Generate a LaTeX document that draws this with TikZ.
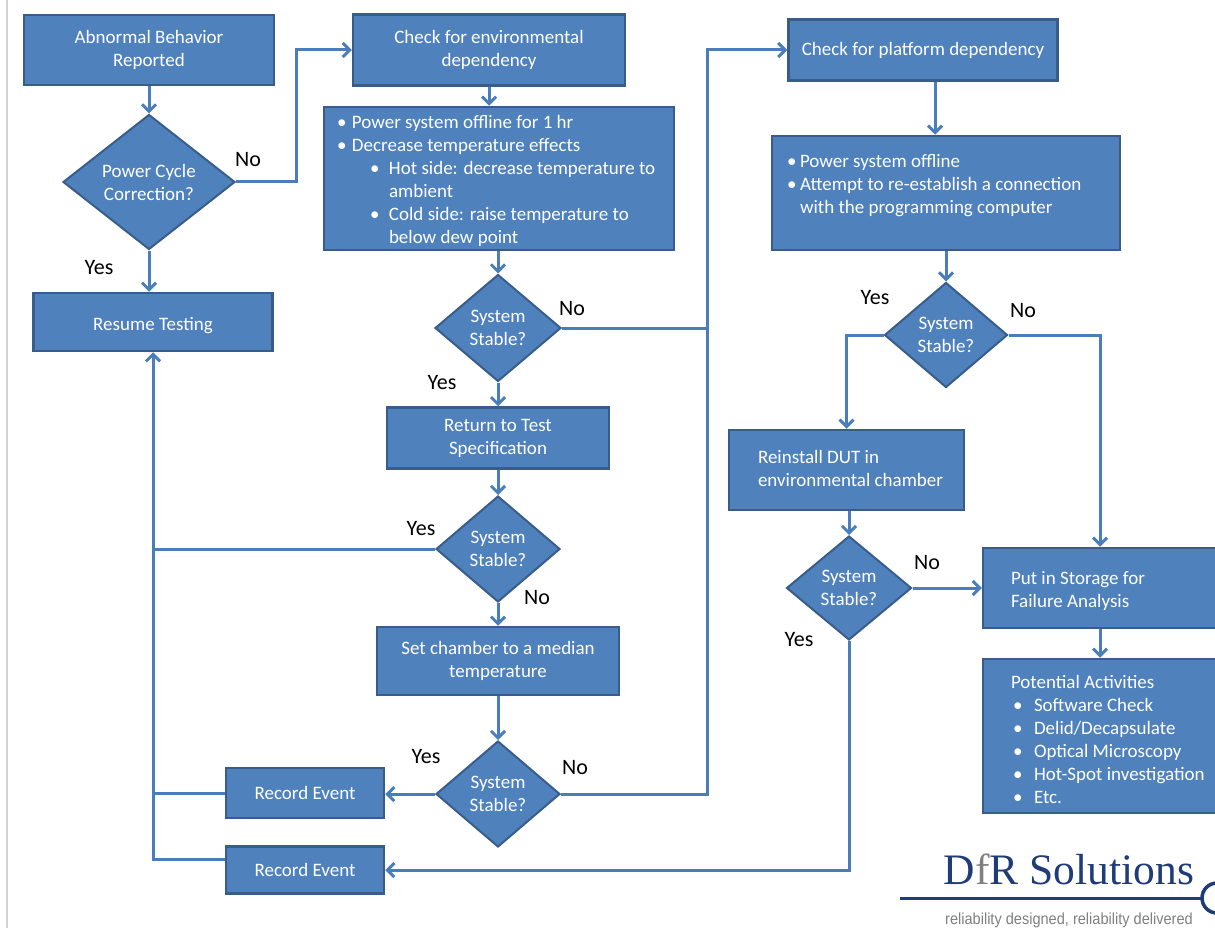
\documentclass[tikz,border=0pt]{standalone}
\usepackage{fontspec}
\setmainfont{Carlito}
\newfontfamily\logofont{Liberation Serif}
\newfontfamily\mottofont{Liberation Sans}
\usetikzlibrary{shapes.geometric,arrows.meta}

\definecolor{kastenblau}{HTML}{4F81BD}
\definecolor{randblau}{HTML}{385D8A}
\definecolor{pfeilblau}{HTML}{4A7EBB}
\definecolor{logoblau}{HTML}{1F3C78}

% Aufzaehlungspunkt und linksbuendiger Textblock (optional nach unten versetzt)
\newcommand{\punkt}[1][15pt]{\makebox[#1][l]{\textbullet}}
\newcommand{\linksblock}[3][0pt]{\raisebox{-#1}[\height][\depth]{\makebox[#2][l]{\begin{tabular}{@{}l@{}}#3\end{tabular}}}}

\tikzset{
  kasten/.style={rectangle, fill=kastenblau, draw=randblau, line width=2.5pt, text=white, align=center, inner sep=0pt, font=\fontsize{19}{23}\selectfont},
  raute/.style={diamond, fill=kastenblau, draw=randblau, line width=2pt, text=white, align=center, inner sep=0pt, font=\fontsize{19}{23}\selectfont},
  pfeil/.style={draw=pfeilblau, line width=3pt, -{Straight Barb[length=7pt,width=14pt]}},
  linie/.style={draw=pfeilblau, line width=3pt},
  antwort/.style={text=black, inner sep=0pt, font=\fontsize{22}{26}\selectfont}
}

\begin{document}
\begin{tikzpicture}[x=1pt, y=-1pt]
    \useasboundingbox (0,0) rectangle (1215,928);
    \fill[white] (0,0) rectangle (1215,928);
    \draw[gray!35, line width=1.5pt] (7,0) -- (7,928);  % Seitenrand links

    % einfache Kaesten (zentrierter Text)
    \foreach \knoten/\xPos/\yPos/\breite/\hoehe/\beschriftung in
        {abn/149/50/250/70/{Abnormal Behavior\\Reported},
         envchk/489/50/272/71/{Check for environmental\\dependency},
         resume/153/322/239/58/{\raisebox{-4pt}[\height][\depth]{Resume Testing}},
         ret/498/438/222/61/{Return to Test\\Specification},
         setch/498/661/242/68/{Set chamber to a median\\temperature},
         rec1/305/793/158/50/{Record Event},
         rec2/305/870/158/47/{Record Event},
         plattchk/923/50/269/61/{Check for platform dependency}}
        {
            \node[kasten, minimum width=\breite pt, minimum height=\hoehe pt] (\knoten) at (\xPos,\yPos) {\beschriftung};
        }

    % Kaesten mit linksbuendigem Text
    \node[kasten, minimum width=350pt, minimum height=143pt, inner xsep=13pt] (umwelt) at (499,178.5) {\linksblock[3pt]{324pt}{%
        \punkt Power system offline for 1 hr\\
        \punkt Decrease temperature effects\\
        \hspace*{33pt}\punkt[19pt]Hot side: decrease temperature to\\
        \hspace*{52pt}ambient\\
        \hspace*{33pt}\punkt[19pt]Cold side: raise temperature to\\
        \hspace*{52pt}below dew point}};
    \node[kasten, minimum width=348pt, minimum height=114pt, inner xsep=15pt] (plattform) at (946,193) {\linksblock[4pt]{318pt}{%
        \punkt[13pt]Power system offline\\
        \punkt[13pt]Attempt to re-establish a connection\\
        \hspace*{13pt}with the programming computer\\ {}}};
    \node[kasten, minimum width=235pt, minimum height=80pt, inner xsep=29pt] (einbau) at (846.5,470) {\linksblock{177pt}{%
        Reinstall DUT in\\environmental chamber}};
    \node[kasten, minimum width=234pt, minimum height=80pt, inner xsep=28pt] (lager) at (1100,588) {\linksblock[3pt]{178pt}{%
        Put in Storage for\\Failure Analysis}};
    \node[kasten, minimum width=234pt, minimum height=154pt, inner xsep=28pt] (aktivitaeten) at (1100,736) {\linksblock[5pt]{178pt}{%
        Potential Activities\\
        \hspace*{2pt}\punkt[21pt]Software Check\\
        \hspace*{2pt}\punkt[21pt]Delid/Decapsulate\\
        \hspace*{2pt}\punkt[21pt]Optical Microscopy\\
        \hspace*{2pt}\punkt[21pt]Hot-Spot investigation\\
        \hspace*{2pt}\punkt[21pt]Etc.}};

    % Entscheidungen
    \node[raute, minimum width=172pt, minimum height=135pt] (powercycle) at (149,182) {Power Cycle\\Correction?};
    \foreach \knoten/\xPos/\yPos/\breite/\hoehe in
        {stabil1/498/328/126/107, stabil2/498/549/124/106, stabil3/498/794/124/106,
         stabil4/946/335/123/105, stabil5/849/588/125/104}
        {
            \node[raute, minimum width=\breite pt, minimum height=\hoehe pt] (\knoten) at (\xPos,\yPos) {System\\Stable?};
        }

    % Verbindungen
    \draw[pfeil] (abn) -- (powercycle);
    \draw[pfeil] (powercycle.east) -- ++(60,0) |- (envchk.west);
    \draw[pfeil] (powercycle.south) -- (powercycle.south |- resume.north);
    \draw[pfeil] (envchk.south) -- (envchk.south |- umwelt.north);
    \draw[pfeil] (umwelt.south -| stabil1) -- (stabil1.north);
    \draw[pfeil] (stabil1.east) -- ++(145,0) coordinate (knick) |- (plattchk.west);
    \draw[pfeil] (stabil1) -- (ret);
    \draw[pfeil] (ret) -- (stabil2);
    \draw[pfeil] (stabil2) -- (setch);
    \draw[pfeil] (setch) -- (stabil3);
    \draw[pfeil] (stabil3.west) -- (stabil3.west -| rec1.east);
    \draw[linie] (stabil3.east) -| (knick);
    \draw[linie] (stabil2.west) -- (stabil2.west -| resume.south);
    \draw[linie] (rec1.west) -- (rec1.west -| resume.south);
    \draw[pfeil] ([yshift=11pt]rec2.west) -| (resume.south);

    \draw[pfeil] ([xshift=12pt]plattchk.south) -- ([xshift=12pt]plattchk.south |- plattform.north);
    \draw[pfeil] (plattform.south -| stabil4) -- (stabil4.north);
    \draw[pfeil] (stabil4.west) -| (einbau.north);
    \draw[pfeil] (stabil4.east) -| (lager.north);
    \draw[pfeil] (einbau.south -| stabil5) -- (stabil5.north);
    \draw[pfeil] (stabil5.east) -- (lager.west);
    \draw[pfeil] (stabil5.south) |- (rec2.east);
    \draw[pfeil] (lager) -- (aktivitaeten);

    % Antworten an den Entscheidungen
    \foreach \knoten/\xPos/\yPos/\antwort in
        {nein0/248/160/No, ja0/99/268/Yes,
         nein1/572/309/No, ja1/442/383/Yes,
         ja2/421/529/Yes, nein2/537/598/No,
         ja3/426/757/Yes, nein3/575/768/No,
         ja4/875/298/Yes, nein4/1023/311/No,
         nein5/927/563/No, ja5/799/640/Yes}
        {
            \node[antwort] (\knoten) at (\xPos,\yPos) {\antwort};
        }

    % Logo
    \node[text=logoblau, inner sep=0pt, anchor=base, font=\logofont\fontsize{43.5}{47}\selectfont] (dfr) at (1069,884) {D\textcolor{gray}{f}R Solutions};
    \draw[logoblau, line width=3pt] (900,898) -- (1202,898);
    \draw[logoblau, line width=3.5pt] (1217,898) circle (15pt);
    \node[text=gray, inner sep=0pt, anchor=base, xscale=0.91, font=\mottofont\fontsize{16}{18}\selectfont] (motto) at (1069,924) {reliability designed, reliability delivered};

\end{tikzpicture}
\end{document}
